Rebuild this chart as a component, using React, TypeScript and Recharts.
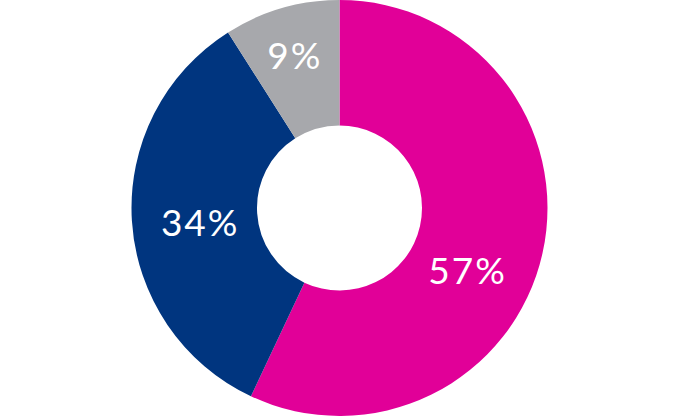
import { PieChart, Pie, Cell } from "recharts";

const names = ["Pink", "Navy", "Grey"];
const values = [57, 34, 9];
const COLORS = ["#e10098", "#00357f", "#a7a8ac"];

const data = names.map((name, i) => ({ name, value: values[i] }));

// hand-tuned label placement (angle shift in deg, radius in px)
const LABEL_NUDGE = [
  { da: -13, r: 142 },
  { da: 2, r: 140 },
  { da: 0, r: 160 },
];

const RADIAN = Math.PI / 180;

const renderLabel = (props: any) => {
  const { cx, cy, midAngle, index, value } = props;
  const n = LABEL_NUDGE[index];
  const a = midAngle + n.da;
  const x = cx + n.r * Math.cos(-a * RADIAN);
  const y = cy + n.r * Math.sin(-a * RADIAN);
  return (
    <text
      x={x}
      y={y}
      fill="#ffffff"
      textAnchor="middle"
      dominantBaseline="central"
      fontFamily="Lato, sans-serif"
      fontSize={37}
      fontWeight={400}
      letterSpacing={2}
    >
      {value}%
    </text>
  );
};

export default function App() {
  return (
    <div style={{ position: "absolute", left: 0, top: 0, width: 680, height: 416, background: "#fff" }}>
      <PieChart width={680} height={416} margin={{ top: 0, right: 0, bottom: 0, left: 0 }}>
        <Pie
          data={data}
          dataKey="value"
          cx={339.5}
          cy={208}
          innerRadius={82.5}
          outerRadius={208}
          startAngle={90}
          endAngle={-270}
          stroke="none"
          labelLine={false}
          label={renderLabel}
          isAnimationActive={false}
        >
          {data.map((_, i) => (
            <Cell key={i} fill={COLORS[i]} />
          ))}
        </Pie>
      </PieChart>
    </div>
  );
}
